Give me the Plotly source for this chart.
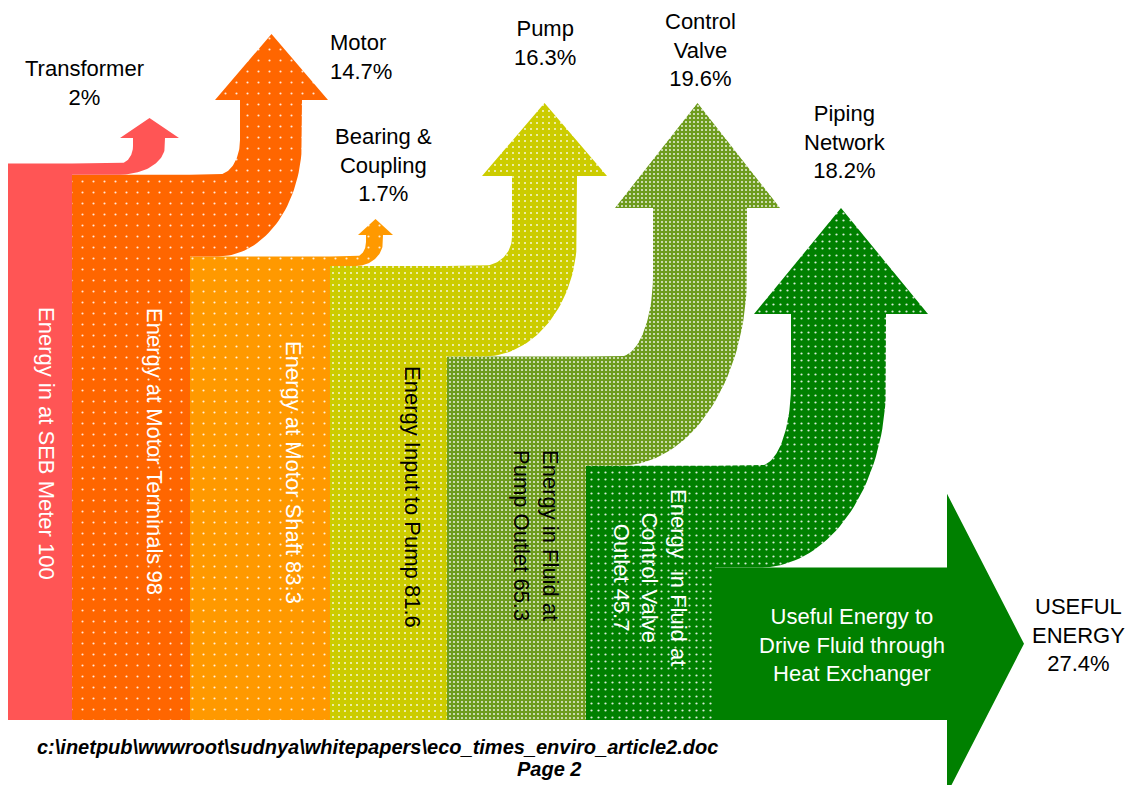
import numpy as np
import plotly.graph_objects as go

# ---------------- data ----------------
stage_names = ["Energy in at SEB Meter", "Energy at Motor Terminals", "Energy at Motor Shaft",
               "Energy Input to Pump", "Energy in Fluid at<br>Pump Outlet",
               "Energy  in Fluid at<br>Control Valve<br>Outlet"]
energy = [100, 98, 83.3, 81.6, 65.3, 45.7, 27.4]
loss_names = ["Transformer", "Motor", "Bearing &<br>Coupling", "Pump", "Control<br>Valve", "Piping<br>Network"]
loss_pct = [2, 14.7, 1.7, 16.3, 19.6, 18.2]
useful_label = "USEFUL<br>ENERGY"
useful_pct = 27.4

# ---------------- layout / style constants ----------------
W, H = 1126, 785
BASE_PX = 720.0      # pixel row of energy 0
S = 5.565            # pixels per energy unit
FONT = "Liberation Sans, Arial, sans-serif"

col_edges = [8, 72, 190, 330, 447, 586, 715]
col_colors = ["#FF5555", "#FF6600", "#FF9900", "#CCCC00", "#6E9C1E", "#008000"]
col_pattern = [None, (11, 0.03), (11, 0.03), (6, 0.09), (4, 0.2), (7, 0.08)]
col_text_color = ["white", "white", "white", "black", "black", "white"]
col_text_pos = [(47, 443), (155, 451), (294, 472), (413, 497), (536, 535), (650, 577)]

# arrow geometry in pixels: curve centre (xc, yc), stem left/right, head left/right, head base, tip
arrow_geom = [
    dict(xc=120, yc=146, sx0=133, sx1=165, hx0=120, hx1=179, hb=138, tip=118),
    dict(xc=218, yc=140, sx0=240, sx1=302, hx0=215, hx1=328, hb=100, tip=34),
    dict(xc=356, yc=242, sx0=366, sx1=383, hx0=358, hx1=393, hb=235, tip=219),
    dict(xc=483, yc=237, sx0=512, sx1=577, hx0=482, hx1=607, hb=176, tip=103),
    dict(xc=620, yc=275, sx0=653, sx1=747, hx0=615, hx1=780, hb=208, tip=103),
    dict(xc=760, yc=385, sx0=791, sx1=886, hx0=754, hx1=928, hb=314, tip=208),
]
loss_text_pos = [(84, 82.5, "center"), (328, 56.5, "left"), (383, 165, "center"),
                 (545, 42.5, "center"), (700, 49.5, "center"), (845, 142, "center")]

useful_color = "#008000"
useful_head_x, useful_tip_x, useful_head_half = 947, 1024, 150


def to_y(py):
    return (BASE_PX - py) / S


def to_px(v):
    return BASE_PX - v * S


def fill_trace(xs, ys, color, pattern):
    kw = dict(x=xs, y=ys, mode="lines", fill="toself", fillcolor=color,
              line=dict(width=0, color=color), hoverinfo="skip", showlegend=False)
    if pattern is not None:
        size, sol = pattern
        kw["fillpattern"] = dict(shape=".", bgcolor=color, fgcolor="white", fgopacity=0.85,
                                 size=size, solidity=sol, fillmode="replace")
    return go.Scatter(**kw)


fig = go.Figure()

# columns
for i in range(6):
    x0, x1 = col_edges[i], col_edges[i + 1]
    fig.add_trace(fill_trace([x0, x1, x1, x0, x0], [0, 0, energy[i], energy[i], 0],
                             col_colors[i], col_pattern[i]))

# loss arrows
th = np.linspace(0, np.pi / 2, 40)
for i in range(6):
    g = arrow_geom[i]
    y_hi = to_px(energy[i])
    y_lo = to_px(energy[i + 1])
    xs0 = col_edges[i + 1]
    px, py = [xs0, g["xc"]], [y_hi, y_hi]
    rx, ry = g["sx0"] - g["xc"], y_hi - g["yc"]
    px += list(g["xc"] + rx * np.sin(th)); py += list(g["yc"] + ry * np.cos(th))
    cx = (g["hx0"] + g["hx1"]) / 2
    px += [g["sx0"], g["hx0"], cx, g["hx1"], g["sx1"]]
    py += [g["hb"], g["hb"], g["tip"], g["hb"], g["hb"]]
    rx2, ry2 = g["sx1"] - g["xc"], y_lo - g["yc"]
    px += list(g["xc"] + rx2 * np.sin(th[::-1])); py += list(g["yc"] + ry2 * np.cos(th[::-1]))
    px += [xs0, xs0]; py += [y_lo, y_hi]
    fig.add_trace(fill_trace(px, [to_y(v) for v in py], col_colors[i], col_pattern[i]))

# useful energy arrow
x0 = col_edges[6]
yc_u = useful_pct / 2
hh = useful_head_half / S
fig.add_trace(fill_trace(
    [x0, useful_head_x, useful_head_x, useful_tip_x, useful_head_x, useful_head_x, x0, x0],
    [0, 0, yc_u - hh, yc_u, yc_u + hh, useful_pct, useful_pct, 0], useful_color, None))

ann = []
# column labels
for i in range(6):
    xpos, ypx = col_text_pos[i]
    ann.append(dict(x=xpos, y=to_y(ypx), text=f"{stage_names[i]} {energy[i]:g}", textangle=90,
                    showarrow=False, xanchor="center", yanchor="middle", align="center",
                    font=dict(family=FONT, size=22, color=col_text_color[i])))
# loss labels
for i in range(6):
    xpos, ypx, al = loss_text_pos[i]
    ann.append(dict(x=xpos, y=to_y(ypx), text=f"{loss_names[i]}<br>{loss_pct[i]:g}%",
                    showarrow=False, xanchor=al, yanchor="middle", align=al,
                    font=dict(family=FONT, size=22, color="black")))
ann.append(dict(x=1078, y=to_y(635), text=f"{useful_label}<br>{useful_pct:g}%", showarrow=False,
                xanchor="center", yanchor="middle", align="center",
                font=dict(family=FONT, size=22, color="black")))
ann.append(dict(x=852, y=to_y(645), text="Useful Energy to<br>Drive Fluid through<br>Heat Exchanger",
                showarrow=False, xanchor="center", yanchor="middle", align="center",
                font=dict(family=FONT, size=22, color="white")))
FOOT = "Liberation Sans Narrow, " + FONT
ann.append(dict(x=377, y=to_y(747), text=r"<b><i>c:\inetpub\wwwroot\sudnya\whitepapers\eco_times_enviro_article2.doc</i></b>",
                showarrow=False, xanchor="center", yanchor="middle",
                font=dict(family=FOOT, size=20, color="black")))
ann.append(dict(x=549, y=to_y(769), text="<b><i>Page 2</i></b>", showarrow=False,
                xanchor="center", yanchor="middle",
                font=dict(family=FOOT, size=20, color="black")))

fig.update_layout(
    width=W, height=H, autosize=False,
    margin=dict(l=0, r=0, t=0, b=0, pad=0),
    paper_bgcolor="white", plot_bgcolor="white",
    xaxis=dict(range=[0, W], visible=False, fixedrange=True),
    yaxis=dict(range=[to_y(H), to_y(0)], visible=False, fixedrange=True),
    annotations=ann, showlegend=False,
)

fig.write_html("out.html")
